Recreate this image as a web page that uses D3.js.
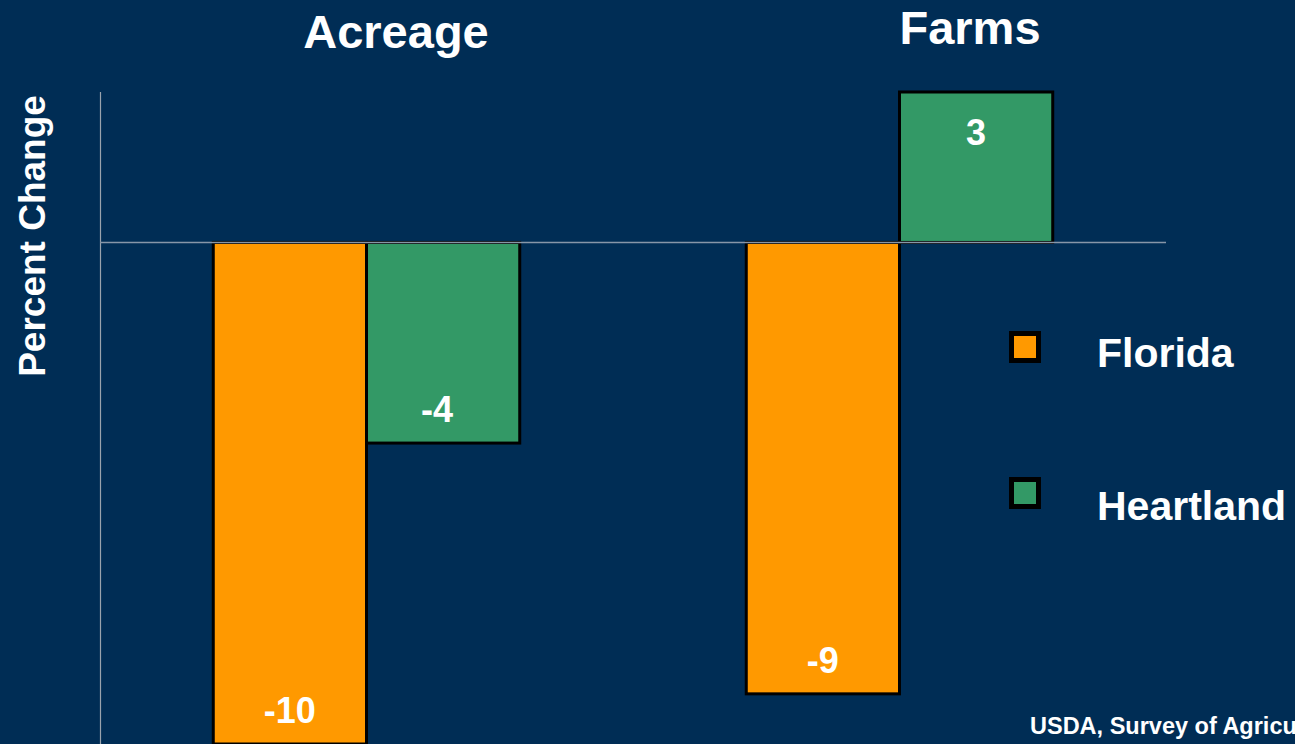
<!DOCTYPE html>
<html>
<head>
<meta charset="utf-8">
<script src="https://cdn.jsdelivr.net/npm/d3@7"></script>
<style>
  html, body { margin: 0; padding: 0; background: #002d55; overflow: hidden; }
  svg { display: block; font-family: "Liberation Sans", Arial, sans-serif; font-weight: bold; }
</style>
</head>
<body>
<svg id="chart" width="1295" height="744"></svg>
<script>
const categories = ["Acreage", "Farms"];
const seriesNames = ["Florida", "Heartland"];
const floridaValues = [-10, -9];
const heartlandValues = [-4, 3];
const colors = ["#ff9900", "#339966"];
const sourceText = "USDA, Survey of Agriculture";

const svg = d3.select("#chart");
const W = 1295, H = 744;
svg.append("rect").attr("width", W).attr("height", H).attr("fill", "#002d55");

const left = 100, right = 1166;
const y = d3.scaleLinear().domain([3, -10]).range([92, 744]);
const x0 = d3.scaleBand().domain(categories).range([left, right])
  .paddingInner(0.425).paddingOuter(0.2125);
const x1 = d3.scaleBand().domain(seriesNames).range([0, x0.bandwidth()]);

const data = categories.map((c, i) => ({
  cat: c,
  vals: [
    { s: seriesNames[0], v: floridaValues[i], color: colors[0] },
    { s: seriesNames[1], v: heartlandValues[i], color: colors[1] }
  ]
}));

// y axis line
svg.append("line").attr("x1", left + 0.5).attr("x2", left + 0.5)
  .attr("y1", y(3)).attr("y2", H).attr("stroke", "#9aa3ad").attr("stroke-width", 1.2);

const g = svg.selectAll("g.grp").data(data).join("g")
  .attr("class", "grp")
  .attr("transform", d => `translate(${x0(d.cat)},0)`);

g.selectAll("rect").data(d => d.vals).join("rect")
  .attr("x", d => x1(d.s))
  .attr("width", x1.bandwidth())
  .attr("y", d => y(Math.max(0, d.v)))
  .attr("height", d => Math.abs(y(d.v) - y(0)))
  .attr("fill", d => d.color)
  .attr("stroke", "#000")
  .attr("stroke-width", 3);

// zero line
svg.append("line").attr("x1", left).attr("x2", right)
  .attr("y1", y(0)).attr("y2", y(0)).attr("stroke", "#8796a8").attr("stroke-width", 1.5);

// value labels
g.selectAll("text.val").data(d => d.vals).join("text")
  .attr("class", "val")
  .attr("x", d => x1(d.s) + x1.bandwidth() / 2 + (d.v === -4 ? -6 : 0))
  .attr("y", d => d.v >= 0 ? y(d.v) + 53 : y(d.v) - 21)
  .attr("text-anchor", "middle")
  .attr("fill", "#fff")
  .attr("font-size", 36)
  .text(d => d.v);

// titles
const titlePos = [{ t: categories[0], x: 396, y: 48 }, { t: categories[1], x: 970, y: 44 }];
svg.selectAll("text.title").data(titlePos).join("text")
  .attr("class", "title")
  .attr("x", d => d.x).attr("y", d => d.y)
  .attr("text-anchor", "middle").attr("fill", "#fff").attr("font-size", 47)
  .text(d => d.t);

// y label
svg.append("text")
  .attr("transform", "translate(45,236) rotate(-90)")
  .attr("text-anchor", "middle").attr("fill", "#fff").attr("font-size", 37)
  .text("Percent Change");

// legend
const legSquares = [331, 477];
const legText = [367, 520];
const leg = svg.selectAll("g.leg").data(seriesNames).join("g").attr("class", "leg");
leg.append("rect").attr("x", 1011.5).attr("y", (d, i) => legSquares[i] + 2.5)
  .attr("width", 27).attr("height", 27)
  .attr("fill", (d, i) => colors[i]).attr("stroke", "#000").attr("stroke-width", 5);
leg.append("text").attr("x", 1097).attr("y", (d, i) => legText[i])
  .attr("fill", "#fff").attr("font-size", 41)
  .text(d => d);

// source
svg.append("text").attr("x", 1030).attr("y", 734).attr("fill", "#fff").attr("font-size", 23.5)
  .text(sourceText);
</script>
</body>
</html>
